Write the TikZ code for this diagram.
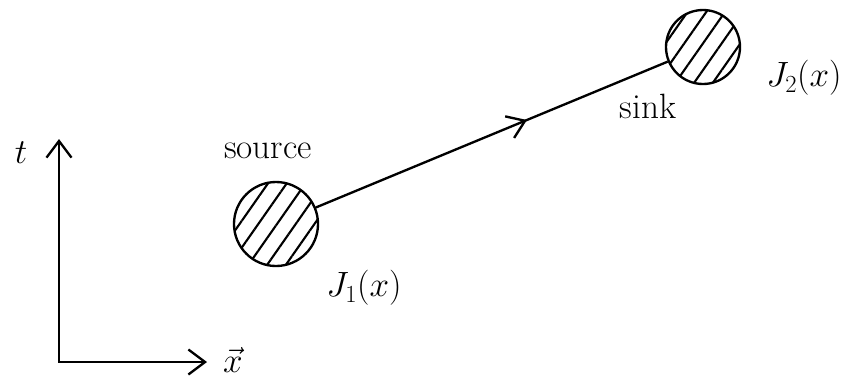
\RequirePackage{fix-cm}
\documentclass[tikz,border=0pt]{standalone}
\usepackage{amsmath}
\usepackage{tikz}
\usetikzlibrary{arrows.meta,patterns.meta,decorations.markings}

\begin{document}
\begin{tikzpicture}[
  x=0.03cm, y=-0.03cm,
  line width=2pt,
  blob/.style ={circle, draw, line width=2pt, inner sep=0pt,
                pattern={Lines[angle=55,distance=4.6mm,line width=1.8pt]}},
  lab/.style  ={font=\fontsize{30}{34}\selectfont, inner sep=1pt},
  barb/.tip   ={Straight Barb[length=5mm,width=7.5mm,line width=2pt]},
  flow/.style ={postaction={decorate}, decoration={markings,
                mark=at position 0.6 with {\arrow{Straight Barb[length=5mm,width=7mm,line width=2pt]}}}},
]
\useasboundingbox (0,0) rectangle (862,379);
% ---------------- axes ----------------
\coordinate (origin) at (59,362);
\coordinate (tend)   at (59,139);
\coordinate (xend)   at (207,362);
\draw[barb-barb] (tend) -- (origin) -- (xend);
\node[lab] (tlab) at (21,153) {$t$};
\node[lab] (xlab) at (233,360) {$\vec{x}$};
% ---------------- source / sink ----------------
\node[blob, minimum size=2.52cm] (source) at (276,224) {};
\node[blob, minimum size=2.22cm] (sink)   at (703,47)  {};
\node[lab] (srclab)  at (268,151) {source};
\node[lab] (sinklab) at (648,106) {sink};
\node[lab] (jone)    at (364,288) {$J_1(x)$};
\node[lab] (jtwo)    at (804,78)  {$J_2(x)$};
% ---------------- flow ----------------
\draw[flow] (source) -- (sink);
\end{tikzpicture}
\end{document}
